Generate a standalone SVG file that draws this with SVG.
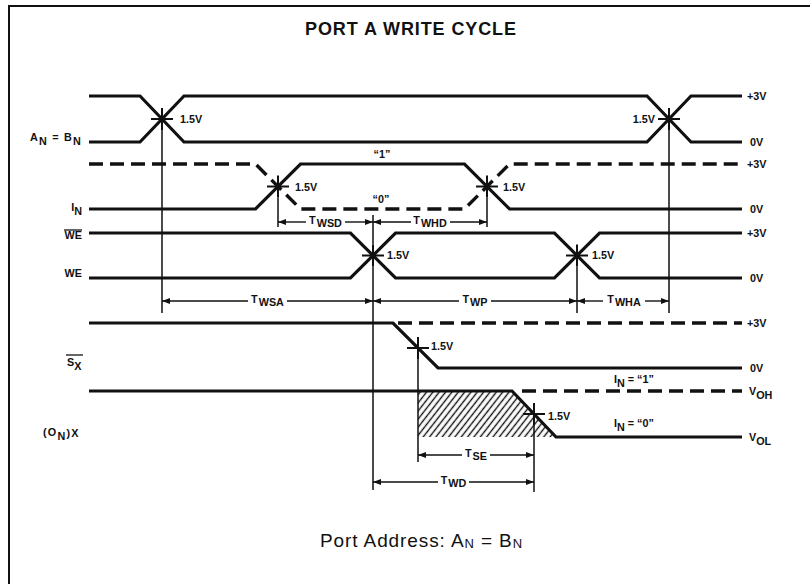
<svg xmlns="http://www.w3.org/2000/svg" width="810" height="584" viewBox="0 0 810 584">
<style>
.sig{fill:none;stroke:#111;stroke-width:3.2;stroke-linejoin:miter}
.dash{fill:none;stroke:#111;stroke-width:3.4;stroke-dasharray:14 7}
.thin{fill:none;stroke:#111;stroke-width:1.5}
.tick{fill:none;stroke:#111;stroke-width:2}
.arr{fill:none;stroke:#111;stroke-width:1.4;marker-end:url(#ah)}
.lb{font-family:"Liberation Sans",Arial,sans-serif;font-weight:bold;font-size:10.8px;fill:#111}
.ttl{font-family:"Liberation Sans",Arial,sans-serif;font-weight:bold;font-size:18px;fill:#111;letter-spacing:0.9px}
.cap{font-family:"Liberation Sans",Arial,sans-serif;font-size:19px;fill:#111;letter-spacing:0.9px}
</style>
<defs>
<marker id="ah" markerUnits="userSpaceOnUse" markerWidth="8" markerHeight="6" refX="8" refY="3" orient="auto">
<path d="M0,0 L8,3 L0,6 z" fill="#111"/>
</marker>
<pattern id="hatch" patternUnits="userSpaceOnUse" width="5" height="10" patternTransform="rotate(38)">
<line x1="2.5" y1="0" x2="2.5" y2="10" stroke="#111" stroke-width="1.4"/>
</pattern>
</defs>
<rect width="810" height="584" fill="#fff"/>
<g id="frame">
<path d="M9,584 V6 H810" fill="none" stroke="#111" stroke-width="2"/>
<text class="ttl" x="411" y="35" text-anchor="middle">PORT A WRITE CYCLE</text>
</g>

<g id="sig-anbn">
<path class="sig" d="M89,96 H140 L184,142 H647 L691,96 H742"/>
<path class="sig" d="M89,142 H140 L184,96 H647 L691,142 H742"/>
<text class="lb" x="82" y="141" text-anchor="end" style="letter-spacing:1.2px">A<tspan dy="4">N</tspan><tspan dy="-4"> = B</tspan><tspan dy="4">N</tspan></text>
<text class="lb" x="747" y="100">+3V</text>
<text class="lb" x="750" y="146">0V</text>
<text class="lb" x="180" y="123">1.5V</text>
<text class="lb" x="655" y="123" text-anchor="end">1.5V</text>
</g>

<g id="sig-in">
<path class="sig" d="M89,209 H255.5 L300.5,164 H464.5 L509.5,209 H742"/>
<path class="dash" d="M89,164 H255.5 L300.5,209 H464.5 L509.5,164 H742"/>
<text class="lb" x="82" y="211" text-anchor="end">I<tspan dy="4">N</tspan></text>
<text class="lb" x="747" y="168">+3V</text>
<text class="lb" x="750" y="213">0V</text>
<text class="lb" x="382" y="158" text-anchor="middle">“1”</text>
<text class="lb" x="381" y="203" text-anchor="middle">“0”</text>
<text class="lb" x="295" y="191">1.5V</text>
<text class="lb" x="503" y="191">1.5V</text>
</g>

<g id="sig-we">
<path class="sig" d="M89,233 H350.5 L395.5,278 H554.5 L599.5,233 H742"/>
<path class="sig" d="M89,278 H350.5 L395.5,233 H554.5 L599.5,278 H742"/>
<text class="lb" x="82" y="239" text-anchor="end">WE</text>
<line x1="64" y1="230" x2="82" y2="230" stroke="#111" stroke-width="1.3"/>
<text class="lb" x="82" y="277" text-anchor="end">WE</text>
<text class="lb" x="747" y="237">+3V</text>
<text class="lb" x="750" y="282">0V</text>
<text class="lb" x="387" y="259">1.5V</text>
<text class="lb" x="592" y="259">1.5V</text>
</g>

<g id="sig-sx">
<path class="sig" d="M89,323 H393 L438,368 H742"/>
<path class="dash" d="M398,323 H742"/>
<text class="lb" x="67" y="366">S<tspan dy="4">X</tspan></text>
<line x1="66" y1="355" x2="83" y2="355" stroke="#111" stroke-width="1.3"/>
<text class="lb" x="747" y="327">+3V</text>
<text class="lb" x="750" y="372">0V</text>
<text class="lb" x="431" y="350">1.5V</text>
</g>

<g id="sig-onx">
<polygon points="418,391 512,391 556,437 418,437" fill="url(#hatch)"/>
<path class="sig" d="M89,391 H512 L556,437 H742"/>
<path class="dash" d="M522,391 H742"/>
<text class="lb" x="43" y="436" style="letter-spacing:1.2px">(O<tspan dy="4">N</tspan><tspan dy="-3">)X</tspan></text>
<text class="lb" x="749" y="395">V<tspan dy="4">OH</tspan></text>
<text class="lb" x="749" y="441">V<tspan dy="4">OL</tspan></text>
<text class="lb" x="548" y="420">1.5V</text>
<text class="lb" x="614" y="383">I<tspan dy="4">N</tspan><tspan dy="-4"> = “1”</tspan></text>
<text class="lb" x="614" y="427">I<tspan dy="4">N</tspan><tspan dy="-4"> = “0”</tspan></text>
</g>

<g id="caption">
<text class="cap" x="320" y="547">Port Address: A<tspan dy="1" style="font-size:13px">N</tspan><tspan dy="-1"> = B</tspan><tspan dy="1" style="font-size:13px">N</tspan></text>
</g>

<g id="connectors">
<path class="tick" d="M151,119 H173 M162,108 V130 M658,119 H680 M669,108 V130 M267,186.5 H289 M278,175.5 V197.5 M476,186.5 H498 M487,175.5 V197.5 M362,255.5 H384 M373,244.5 V266.5 M566,255.5 H588 M577,244.5 V266.5 M407,348 H429 M418,337 V359 M523,414 H545 M534,403 V425"/>
<path class="thin" d="M162,130 V313 M669,130 V313 M278,197.5 V227 M487,197.5 V227 M373,215 V244.5 M373,266.5 V490 M577,266.5 V313 M418,359 V462 M534,425 V492"/>
<path class="arr" d="M306,222 H278"/>
<path class="arr" d="M345,222 H373"/>
<text class="lb" x="325.5" y="224" text-anchor="middle">T<tspan dy="3" dx="1">WSD</tspan></text>
<path class="arr" d="M411,222 H373"/>
<path class="arr" d="M450,222 H487"/>
<text class="lb" x="430" y="224" text-anchor="middle">T<tspan dy="3" dx="1">WHD</tspan></text>
<path class="arr" d="M248,301 H162"/>
<path class="arr" d="M287,301 H373"/>
<text class="lb" x="267.5" y="303" text-anchor="middle">T<tspan dy="3" dx="1">WSA</tspan></text>
<path class="arr" d="M459,301 H373"/>
<path class="arr" d="M491,301 H577"/>
<text class="lb" x="475" y="303" text-anchor="middle">T<tspan dy="3" dx="1">WP</tspan></text>
<path class="arr" d="M603,301 H577"/>
<path class="arr" d="M645,301 H669"/>
<text class="lb" x="624" y="303" text-anchor="middle">T<tspan dy="3" dx="1">WHA</tspan></text>
<path class="arr" d="M462,455 H418"/>
<path class="arr" d="M490,455 H534"/>
<text class="lb" x="476" y="457" text-anchor="middle">T<tspan dy="3" dx="1">SE</tspan></text>
<path class="arr" d="M438,482 H373"/>
<path class="arr" d="M469,482 H534"/>
<text class="lb" x="453.5" y="484" text-anchor="middle">T<tspan dy="3" dx="1">WD</tspan></text>
</g>
</svg>
